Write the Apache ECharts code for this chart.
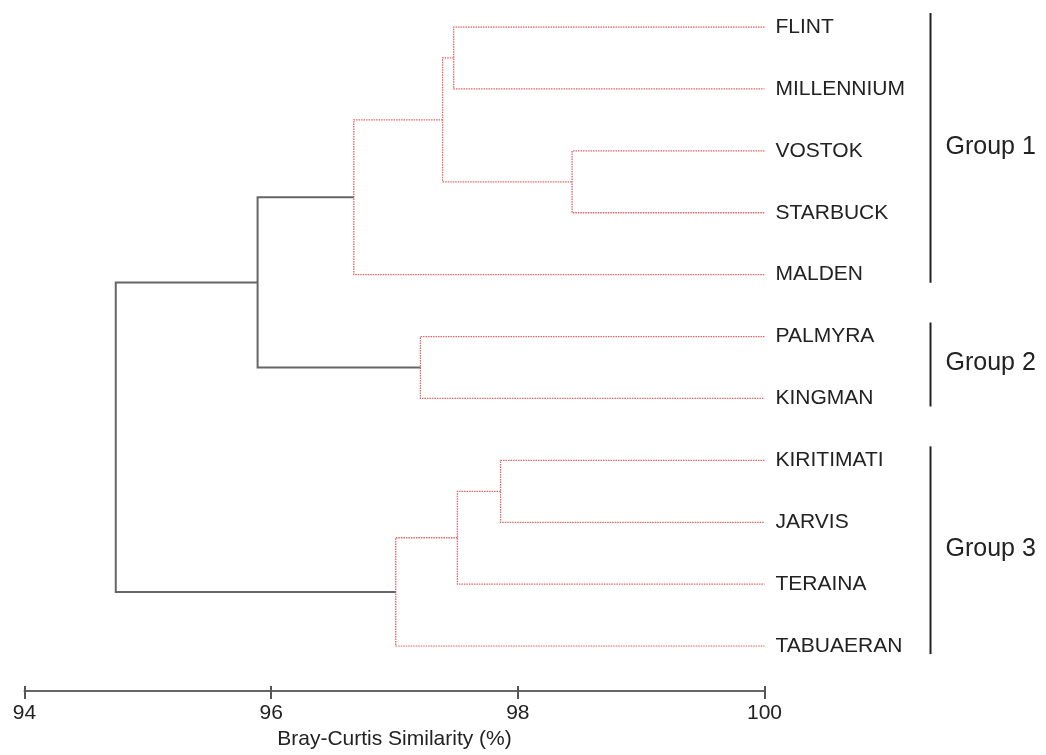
<!DOCTYPE html>
<html>
<head>
<meta charset="utf-8">
<script src="https://cdn.jsdelivr.net/npm/echarts@6/dist/echarts.min.js"></script>
<style>
  html, body { margin: 0; padding: 0; background: #fff; }
  #chart { width: 1046px; height: 755px; }
</style>
</head>
<body>
<div id="chart"></div>
<script>
// Sites (dendrogram leaves, top to bottom)
const leaves = ['FLINT', 'MILLENNIUM', 'VOSTOK', 'STARBUCK', 'MALDEN', 'PALMYRA',
                'KINGMAN', 'KIRITIMATI', 'JARVIS', 'TERAINA', 'TABUAERAN'];

// Agglomeration steps: each joins two clusters (leaf index, or 11 + step index)
// at the given Bray-Curtis similarity (%)
const mergeA = [0, 2, 11, 13, 5, 14, 7, 17, 18, 16];
const mergeB = [1, 3, 12, 4, 6, 15, 8, 9, 10, 19];
const mergeSim = [97.48, 98.44, 97.39, 96.67, 97.21, 95.89, 97.86, 97.51, 97.01, 94.74];

// Similarity level at which the tree is cut into groups
const cutLevel = 96.5;

// Groups formed by the cut (first and last leaf index)
const groupNames = ['Group 1', 'Group 2', 'Group 3'];
const groupStart = [0, 5, 7];
const groupEnd = [4, 6, 10];

// Axis ticks
const xTicks = [94, 96, 98, 100];

// Build node positions: leaves at 100 %, internal nodes at their merge level,
// vertically centred between their two children
const nodeX = leaves.map(() => 100);
const nodeY = leaves.map((_, i) => i);
const redSegs = [];
const greySegs = [];
mergeSim.forEach((s, k) => {
  const a = mergeA[k], b = mergeB[k];
  const path = [
    [nodeX[a], nodeY[a]],
    [s, nodeY[a]],
    [s, nodeY[b]],
    [nodeX[b], nodeY[b]]
  ];
  (s >= cutLevel ? redSegs : greySegs).push({ coords: path });
  nodeX.push(s);
  nodeY.push((nodeY[a] + nodeY[b]) / 2);
});

const groupData = groupNames.map((n, i) => [100, groupStart[i], groupEnd[i]]);

const FONT = '"Liberation Sans", Arial, sans-serif';
const chart = echarts.init(document.getElementById('chart'));

const GRID_TOP = 27, GRID_H = 624, AXIS_GAP = 45;

const baseX = {
  type: 'value',
  min: xTicks[0],
  max: xTicks[xTicks.length - 1],
  interval: 2,
  splitLine: { show: false }
};

chart.setOption({
  animation: false,
  backgroundColor: '#fff',
  grid: { left: 24.5, top: GRID_TOP, width: 740, height: GRID_H, containLabel: false },
  xAxis: [
    // main axis: line, lower tick halves, labels and title
    Object.assign({}, baseX, {
      position: 'bottom',
      offset: AXIS_GAP,
      axisLine: { onZero: false, lineStyle: { color: '#666', width: 2 } },
      axisTick: { show: true, length: 8, lineStyle: { color: '#555', width: 2 } },
      axisLabel: { fontSize: 21, color: '#222', fontFamily: FONT, margin: 12 },
      name: 'Bray-Curtis Similarity (%)',
      nameLocation: 'middle',
      nameGap: 37,
      nameTextStyle: { fontSize: 21, color: '#222', fontFamily: FONT }
    }),
    // companion axis on the same line: upper tick halves only
    Object.assign({}, baseX, {
      position: 'top',
      offset: -(GRID_H + AXIS_GAP),
      axisLine: { show: false, onZero: false },
      axisTick: { show: true, length: 10, lineStyle: { color: '#555', width: 2 } },
      axisLabel: { show: false }
    })
  ],
  yAxis: {
    type: 'value',
    min: 0,
    max: leaves.length - 1,
    interval: 1,
    inverse: true,
    position: 'right',
    axisLine: { show: false, onZero: false },
    axisTick: { show: false },
    splitLine: { show: false },
    axisLabel: {
      margin: 11,
      fontSize: 21,
      color: '#222',
      fontFamily: FONT,
      formatter: v => leaves[v] || ''
    }
  },
  series: [
    {
      type: 'lines',
      coordinateSystem: 'cartesian2d',
      polyline: true,
      silent: true,
      lineStyle: { color: '#e36464', width: 1.3, type: [1.5, 1], opacity: 1 },
      data: redSegs
    },
    {
      type: 'lines',
      coordinateSystem: 'cartesian2d',
      polyline: true,
      silent: true,
      lineStyle: { color: '#666', width: 2, type: 'solid', opacity: 1 },
      data: greySegs
    },
    {
      type: 'custom',
      coordinateSystem: 'cartesian2d',
      silent: true,
      clip: false,
      encode: { x: 0, y: [1, 2] },
      data: groupData,
      renderItem: function (params, api) {
        const top = api.coord([100, api.value(1)]);
        const bot = api.coord([100, api.value(2)]);
        const bx = top[0] + 166;
        const name = groupNames[params.dataIndex];
        return {
          type: 'group',
          children: [
            {
              type: 'line',
              shape: { x1: bx, y1: top[1] - 14, x2: bx, y2: bot[1] + 8 },
              style: { stroke: '#222', lineWidth: 2 }
            },
            {
              type: 'text',
              style: {
                x: bx + 15,
                y: (top[1] + bot[1]) / 2 - 4,
                text: name,
                fill: '#222',
                font: '25px ' + FONT,
                verticalAlign: 'middle',
                align: 'left'
              }
            }
          ]
        };
      }
    }
  ]
});
</script>
</body>
</html>
